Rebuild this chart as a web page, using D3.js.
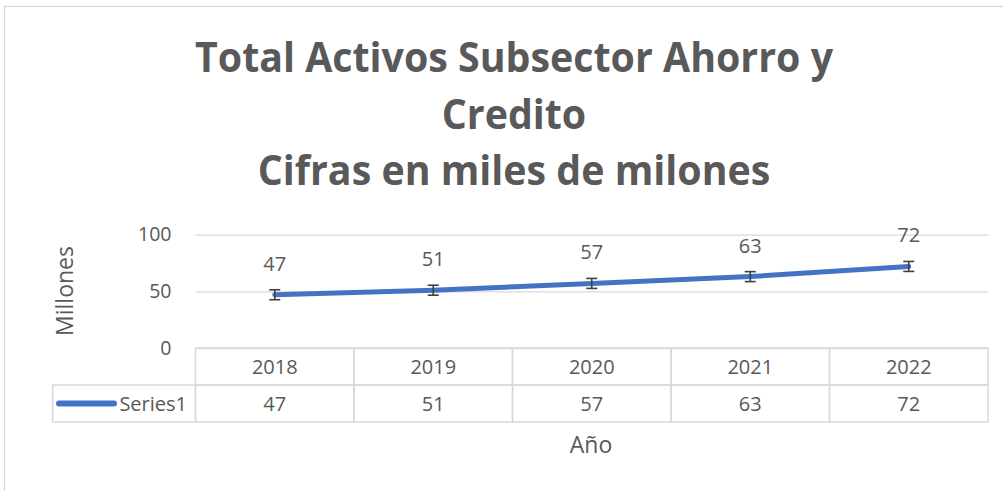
<!DOCTYPE html>
<html>
<head>
<meta charset="utf-8">
<script src="https://cdn.jsdelivr.net/npm/d3@7"></script>
<style>
  body { margin: 0; background: #fff; }
  text { font-family: "Open Sans", "Noto Sans", sans-serif; fill: #595959; }
</style>
</head>
<body>
<div id="chart"></div>
<script>
var years = ["2018", "2019", "2020", "2021", "2022"],
    values = [47, 51, 57, 63, 72],
    errBar = [4.4, 4.4, 4.4, 4.4, 4.4],
    yTicks = [0, 50, 100],
    titleLines = ["Total Activos Subsector Ahorro y", "Credito", "Cifras en miles de milones"],
    seriesName = "Series1";

var width = 1003,
    height = 491,
    plot = {"left": 195.5, "right": 988, "top": 234.7, "bottom": 348},
    rowH = 37,
    legendLeft = 52.7,
    grey = "#d9d9d9",
    blue = "#4472c4";

var svg = d3.select("#chart")
  .append("svg")
  .attr("width", width)
  .attr("height", height);

// chart border (only top and left edge visible)
svg.append("rect")
  .attr("x", 4.5)
  .attr("y", 6.5)
  .attr("width", width + 20)
  .attr("height", height + 20)
  .style("fill", "none")
  .style("stroke", grey)
  .style("stroke-width", 1.3);

// title, squeezed a little to mimic the narrow original font
var titleWidth = 638;
var title = svg.append("g");
titleLines.forEach(function(t, i) {
  title.append("text")
    .attr("x", 514)
    .attr("y", 72 + i * 56.5)
    .attr("text-anchor", "middle")
    .style("font-size", "42px")
    .style("font-weight", "bold")
    .text(t);
});
var scale = titleWidth / title.select("text").node().getComputedTextLength();
title.selectAll("text").each(function() {
  var w = this.getComputedTextLength();
  d3.select(this).attr("textLength", w * scale).attr("lengthAdjust", "spacingAndGlyphs");
});

// scales
var x = d3.scaleBand().domain(years).range([plot.left, plot.right]);
var y = d3.scaleLinear().domain([0, 100]).range([plot.bottom, plot.top]);

// gridlines and y tick labels
var yAxis = d3.axisLeft(y)
  .tickValues(yTicks)
  .tickSize(-(plot.right - plot.left))
  .tickPadding(24);

var gy = svg.append("g")
  .attr("transform", "translate(" + plot.left + ",0)")
  .call(yAxis);
gy.select(".domain").remove();
gy.selectAll("line").style("stroke", grey).style("stroke-width", 1.3);
gy.selectAll("text")
  .style("font-size", "19.5px")
  .style("font-family", "'Open Sans', sans-serif")
  .style("fill", "#595959");

// y axis title
svg.append("text")
  .attr("transform", "translate(73," + 291 + ") rotate(-90)")
  .attr("text-anchor", "middle")
  .style("font-size", "23px")
  .text("Millones");

// data table
var table = svg.append("g").style("fill", "none").style("stroke", grey).style("stroke-width", 1.5);
years.forEach(function(yr) {
  table.append("rect")
    .attr("x", x(yr)).attr("y", plot.bottom)
    .attr("width", x.bandwidth()).attr("height", rowH);
  table.append("rect")
    .attr("x", x(yr)).attr("y", plot.bottom + rowH)
    .attr("width", x.bandwidth()).attr("height", rowH);
});
table.append("rect")
  .attr("x", legendLeft).attr("y", plot.bottom + rowH)
  .attr("width", plot.left - legendLeft).attr("height", rowH);

svg.selectAll(".yearLabel")
  .data(years)
  .enter()
  .append("text")
  .attr("class", "yearLabel")
  .attr("x", d => x(d) + x.bandwidth() / 2)
  .attr("y", plot.bottom + rowH / 2 + 7)
  .attr("text-anchor", "middle")
  .style("font-size", "20px")
  .text(d => d);

svg.selectAll(".valLabel")
  .data(values)
  .enter()
  .append("text")
  .attr("class", "valLabel")
  .attr("x", (d, i) => x(years[i]) + x.bandwidth() / 2)
  .attr("y", plot.bottom + rowH * 1.5 + 7)
  .attr("text-anchor", "middle")
  .style("font-size", "20px")
  .text(d => d);

// legend key in table
svg.append("line")
  .attr("x1", 59).attr("x2", 114)
  .attr("y1", plot.bottom + rowH * 1.5).attr("y2", plot.bottom + rowH * 1.5)
  .style("stroke", blue)
  .style("stroke-width", 6)
  .style("stroke-linecap", "round");
svg.append("text")
  .attr("x", 187)
  .attr("y", plot.bottom + rowH * 1.5 + 7)
  .attr("text-anchor", "end")
  .style("font-size", "20px")
  .text(seriesName);

// x axis title
svg.append("text")
  .attr("x", 591)
  .attr("y", 453)
  .attr("text-anchor", "middle")
  .style("font-size", "23px")
  .text("Año");

// series line
var cx = (d, i) => x(years[i]) + x.bandwidth() / 2;
var line = d3.line().x(cx).y(d => y(d));

svg.append("path")
  .datum(values)
  .attr("d", line)
  .style("fill", "none")
  .style("stroke", blue)
  .style("stroke-width", 5)
  .style("stroke-linecap", "round")
  .style("stroke-linejoin", "round");

// error bars
var eb = svg.selectAll(".err")
  .data(values)
  .enter()
  .append("g")
  .attr("class", "err")
  .style("stroke", "#404040")
  .style("stroke-width", 1.6);
eb.append("line")
  .attr("x1", cx).attr("x2", cx)
  .attr("y1", (d, i) => y(d + errBar[i]))
  .attr("y2", (d, i) => y(d - errBar[i]));
eb.append("line")
  .attr("x1", (d, i) => cx(d, i) - 5.5).attr("x2", (d, i) => cx(d, i) + 5.5)
  .attr("y1", (d, i) => y(d + errBar[i])).attr("y2", (d, i) => y(d + errBar[i]));
eb.append("line")
  .attr("x1", (d, i) => cx(d, i) - 5.5).attr("x2", (d, i) => cx(d, i) + 5.5)
  .attr("y1", (d, i) => y(d - errBar[i])).attr("y2", (d, i) => y(d - errBar[i]));

// data labels
svg.selectAll(".dataLabel")
  .data(values)
  .enter()
  .append("text")
  .attr("class", "dataLabel")
  .attr("x", cx)
  .attr("y", d => y(d) - 24)
  .attr("text-anchor", "middle")
  .style("font-size", "20px")
  .text(d => d);
</script>
</body>
</html>
